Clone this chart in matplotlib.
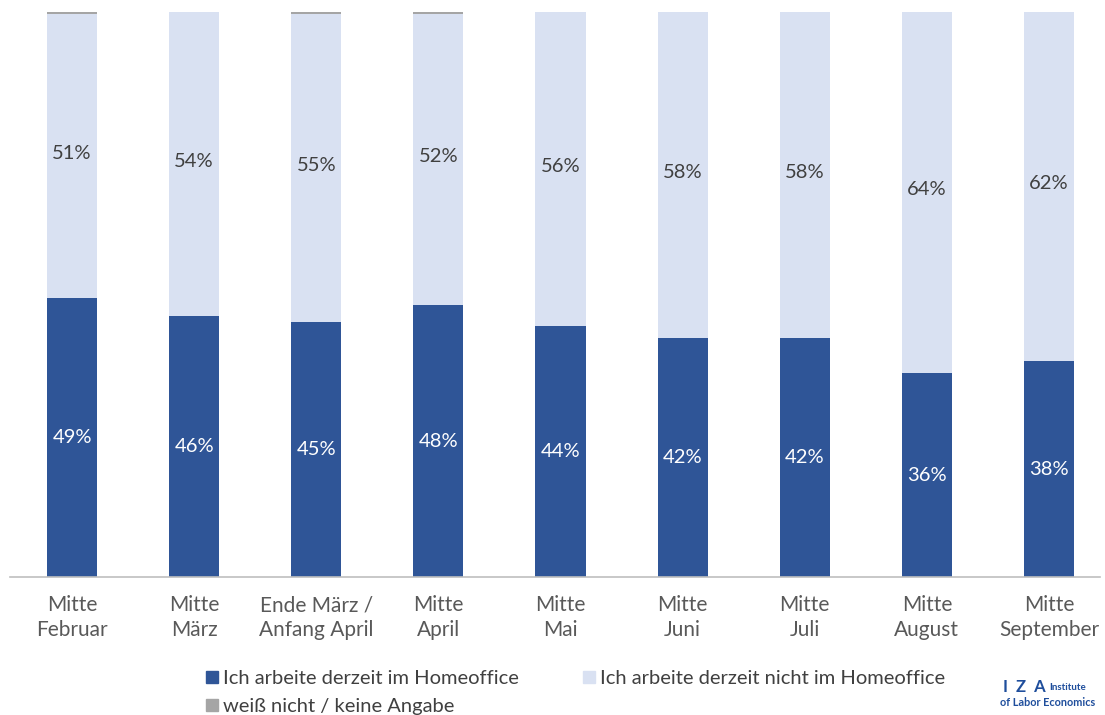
import numpy as np
import matplotlib
matplotlib.use("Agg")
import matplotlib.pyplot as plt
from matplotlib.patches import Patch

plt.rcParams['font.family'] = ['Lato', 'DejaVu Sans']

categories = ["Mitte\nFebruar", "Mitte\nMärz", "Ende März /\nAnfang April", "Mitte\nApril",
              "Mitte\nMai", "Mitte\nJuni", "Mitte\nJuli", "Mitte\nAugust", "Mitte\nSeptember"]
home = [49.4, 46.2, 45.1, 48.1, 44.4, 42.3, 42.3, 36.1, 38.2]
not_home = [50.2, 53.8, 54.5, 51.5, 55.6, 57.7, 57.7, 63.9, 61.8]
unknown = [0.4, 0.0, 0.4, 0.4, 0.0, 0.0, 0.0, 0.0, 0.0]
home_labels = [49, 46, 45, 48, 44, 42, 42, 36, 38]
not_home_labels = [51, 54, 55, 52, 56, 58, 58, 64, 62]

c_dark = "#2F5597"
c_light = "#D9E1F2"
c_gray = "#A5A5A5"

fig = plt.figure(figsize=(11.05, 7.15), dpi=100)
ax = fig.add_axes([10 / 1105, 138 / 715, 1090 / 1105, 565 / 715])

x = np.arange(len(categories))
w = 0.41
home = np.array(home)
not_home = np.array(not_home)
unknown = np.array(unknown)

ax.bar(x, home, w, color=c_dark)
ax.bar(x, not_home, w, bottom=home, color=c_light)
ax.bar(x, unknown, w, bottom=home + not_home, color=c_gray)

for i in range(len(x)):
    ax.text(x[i], home[i] / 2, f"{home_labels[i]}%", ha='center', va='center',
            color='white', fontsize=14.5)
    ax.text(x[i], home[i] + not_home[i] / 2 + 0.5, f"{not_home_labels[i]}%", ha='center', va='center',
            color='#404040', fontsize=14.5)

ax.set_xlim(-0.508, 8.418)
ax.set_ylim(0, 100)
ax.set_xticks(x)
ax.set_xticklabels(categories, fontsize=15, color='#595959', linespacing=1.3)
ax.tick_params(axis='x', length=0, pad=13)
ax.set_yticks([])
for s in ['top', 'right', 'left']:
    ax.spines[s].set_visible(False)
ax.spines['bottom'].set_color('#BFBFBF')
ax.spines['bottom'].set_linewidth(1.2)

handles = [Patch(color=c_dark, label="Ich arbeite derzeit im Homeoffice"),
           Patch(color=c_gray, label="weiß nicht / keine Angabe"),
           Patch(color=c_light, label="Ich arbeite derzeit nicht im Homeoffice")]
leg = fig.legend(handles=handles, ncol=2, loc='upper left', bbox_to_anchor=(188 / 1105, 1 - 652 / 715),
                 frameon=False, fontsize=14.5, handlelength=0.6, handleheight=0.6,
                 handletextpad=0.25, columnspacing=3.15, labelspacing=0.55, labelcolor='#404040')

fig.text(1003 / 1105, 1 - 687 / 715, "I  Z  A", color='#1F4E9C', fontsize=12, fontweight='bold', va='center')
fig.text(1049 / 1105, 1 - 688 / 715, "Institute", color='#1F4E9C', fontsize=7, fontweight='bold', va='center')
fig.text(1000 / 1105, 1 - 703 / 715, "of Labor Economics", color='#1F4E9C', fontsize=7.8, fontweight='bold', va='center')

fig.savefig("out.png", dpi=100)
